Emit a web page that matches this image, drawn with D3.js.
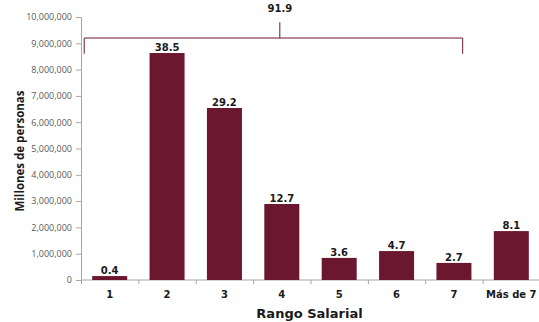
<!DOCTYPE html>
<html>
<head>
<meta charset="utf-8">
<script src="https://cdn.jsdelivr.net/npm/d3@7"></script>
<style>
  body { margin: 0; background: #fff; }
  svg { display: block; font-family: "DejaVu Sans", sans-serif; }
</style>
</head>
<body>
<div id="chart"></div>
<script>
// Chart data
const categories = ["1", "2", "3", "4", "5", "6", "7", "Más de 7"];
const personas = [150000, 8630000, 6540000, 2890000, 840000, 1100000, 650000, 1860000];
const porcentajes = ["0.4", "38.5", "29.2", "12.7", "3.6", "4.7", "2.7", "8.1"];
const yTicks = [0, 1000000, 2000000, 3000000, 4000000, 5000000, 6000000, 7000000, 8000000, 9000000, 10000000];
const bracketLabel = "91.9";

const W = 539, H = 322;
const margin = { top: 17, right: -1, bottom: 42, left: 81 };
const width = W - margin.left - margin.right;
const height = H - margin.top - margin.bottom;
const barColor = "#6b1730";
const axisColor = "#a6a6a6";

const svg = d3.select("#chart").append("svg")
  .attr("width", W)
  .attr("height", H);

const g = svg.append("g")
  .attr("transform", `translate(${margin.left},${margin.top})`);

const x = d3.scaleBand()
  .domain(categories)
  .range([0, width])
  .paddingInner(0.39)
  .paddingOuter(0.195);

const y = d3.scaleLinear()
  .domain([0, 10000000])
  .range([height, 0]);

// y axis
const yAxis = g.append("g")
  .call(d3.axisLeft(y).tickValues(yTicks).tickFormat(d3.format(",")).tickSize(5).tickPadding(4));
yAxis.select(".domain").attr("stroke", axisColor);
yAxis.selectAll(".tick line").attr("stroke", axisColor);
yAxis.selectAll(".tick text")
  .attr("fill", "#595959")
  .style("font-size", "9px")
  .style("font-family", "'Open Sans', sans-serif");

// x axis with ticks between bands
const xAxis = g.append("g")
  .attr("transform", `translate(0,${height})`);
xAxis.append("line")
  .attr("x1", 0).attr("x2", width)
  .attr("stroke", axisColor);
const step = x.step();
xAxis.selectAll(".sep")
  .data(d3.range(categories.length))
  .enter()
  .append("line")
  .attr("class", "sep")
  .attr("x1", i => i * step + 0.5)
  .attr("x2", i => i * step + 0.5)
  .attr("y1", 0).attr("y2", 4)
  .attr("stroke", axisColor);
xAxis.selectAll(".cat")
  .data(categories)
  .enter()
  .append("text")
  .attr("class", "cat")
  .attr("x", d => x(d) + x.bandwidth() / 2)
  .attr("y", 18)
  .attr("text-anchor", "middle")
  .attr("fill", "#1a1a1a")
  .style("font-size", "10px")
  .style("font-weight", "bold")
  .text(d => d);

// bars
g.selectAll(".bar")
  .data(personas)
  .enter()
  .append("rect")
  .attr("class", "bar")
  .attr("x", (d, i) => x(categories[i]))
  .attr("y", d => y(d))
  .attr("width", x.bandwidth())
  .attr("height", d => height - y(d))
  .attr("fill", barColor);

// value labels
g.selectAll(".val")
  .data(personas)
  .enter()
  .append("text")
  .attr("class", "val")
  .attr("x", (d, i) => x(categories[i]) + x.bandwidth() / 2)
  .attr("y", d => y(d) - 2)
  .attr("text-anchor", "middle")
  .attr("fill", "#1a1a1a")
  .style("font-size", "10px")
  .style("font-weight", "bold")
  .text((d, i) => porcentajes[i]);

// bracket over categories 1-7
const bx0 = x(categories[0]) - 8;
const bx1 = x(categories[6]) + x.bandwidth() * 0.75;
const bMid = x(categories[3]) + x.bandwidth() / 2 - 2;
const bY = y(9200000);
const bracket = g.append("g").attr("stroke", barColor).attr("fill", "none");
bracket.append("path")
  .attr("d", `M${bx0},${y(8600000)}V${bY}H${bx1}V${y(8600000)}`)
  .attr("stroke-width", 1);
bracket.append("line")
  .attr("x1", bMid).attr("x2", bMid)
  .attr("y1", bY).attr("y2", y(9800000))
  .attr("stroke-width", 1);
g.append("text")
  .attr("x", bMid)
  .attr("y", y(10000000) - 5)
  .attr("text-anchor", "middle")
  .attr("fill", "#1a1a1a")
  .style("font-size", "10px")
  .style("font-weight", "bold")
  .text(bracketLabel);

// axis titles
svg.append("text")
  .attr("transform", "translate(24,151) rotate(-90)")
  .attr("text-anchor", "middle")
  .attr("fill", "#1a1a1a")
  .style("font-size", "11.5px")
  .style("font-weight", "bold")
  .style("font-family", "'Open Sans', sans-serif")
  .text("Millones de personas");

svg.append("text")
  .attr("x", margin.left + (538 - margin.left) / 2)
  .attr("y", H - 4)
  .attr("text-anchor", "middle")
  .attr("fill", "#1a1a1a")
  .style("font-size", "13px")
  .style("font-weight", "bold")
  .text("Rango Salarial");
</script>
</body>
</html>
